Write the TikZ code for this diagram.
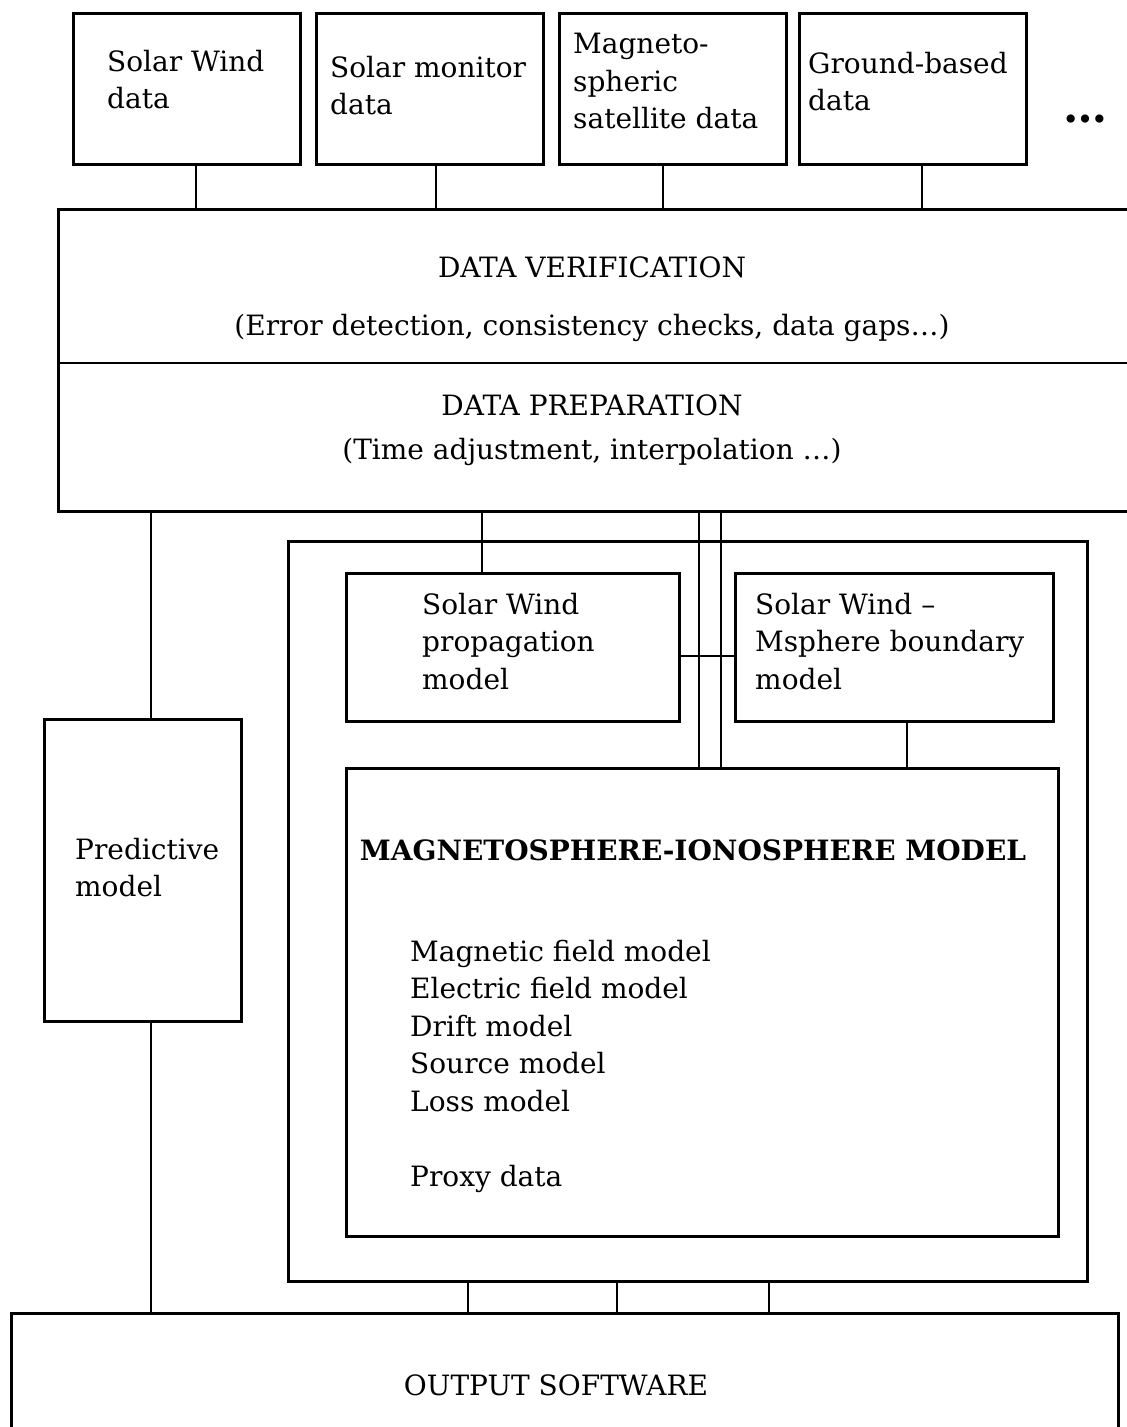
\documentclass[tikz,border=0pt]{standalone}
\usepackage{fontspec}
\setmainfont{DejaVu Serif}
\begin{document}
\begin{tikzpicture}[x=1pt,y=-1pt,
  box/.style={draw,line width=2.5pt,rectangle,inner sep=0pt,anchor=north west},
  conn/.style={line width=1.8pt},
  txt/.style={inner sep=0pt,anchor=north west,align=left,font=\fontsize{28}{37.5}\selectfont},
  ctxt/.style={inner sep=0pt,anchor=center,font=\fontsize{28}{37.5}\selectfont}]
\useasboundingbox[fill=white] (0,0) rectangle (1127,1427);
% top data boxes
\node[box,minimum width=227pt,minimum height=151pt] (b1) at (72,12) {};
\node[box,minimum width=227pt,minimum height=151pt] (b2) at (315,12) {};
\node[box,minimum width=227pt,minimum height=151pt] (b3) at (558,12) {};
\node[box,minimum width=227pt,minimum height=151pt] (b4) at (798,12) {};
\node[txt] (t1) at (107,50) {Solar Wind\\data};
\node[txt] (t2) at (330,56) {Solar monitor\\data};
\node[txt] (t3) at (573,33) {Magneto-\\spheric\\satellite data};
\node[txt] (t4) at (808,52) {Ground-based\\data};
\node[ctxt,font=\fontsize{44}{44}\selectfont\bfseries] (dots) at (1085,119) {…};
% verification / preparation
\node[box,minimum width=1090pt,minimum height=302pt] (vp) at (57,208) {};
\coordinate (divL) at (57,363);
\coordinate (divR) at (1147,363);
\draw[line width=2.5pt] (divL) -- (divR);
\node[ctxt] (dv) at (592,267) {DATA VERIFICATION};
\node[ctxt] (dvs) at (592,328) {(Error detection, consistency checks, data gaps…)};
\node[ctxt] (dp) at (592,405) {DATA PREPARATION};
\node[ctxt] (dps) at (592,452) {(Time adjustment, interpolation …)};
% predictive model
\node[box,minimum width=197pt,minimum height=302pt] (pred) at (43,718) {};
\node[txt] (tp) at (75,838) {Predictive\\model};
% model container
\node[box,minimum width=799pt,minimum height=740pt] (cont) at (287,540) {};
\node[box,minimum width=333pt,minimum height=148pt] (swp) at (345,572) {};
\node[txt] (tswp) at (422,593) {Solar Wind\\propagation\\model};
\node[box,minimum width=318pt,minimum height=148pt] (swm) at (734,572) {};
\node[txt] (tswm) at (755,593) {Solar Wind –\\Msphere boundary\\model};
\node[box,minimum width=712pt,minimum height=468pt] (mi) at (345,767) {};
\node[ctxt,font=\fontsize{28}{37.5}\selectfont\bfseries] (mit) at (693,850) {MAGNETOSPHERE-IONOSPHERE MODEL};
\node[txt] (mil) at (410,940) {Magnetic field model\\Electric field model\\Drift model\\Source model\\Loss model\\[37.5pt]Proxy data};
% output
\node[box,minimum width=1107pt,minimum height=140pt] (out) at (10,1312) {};
\node[ctxt] (tout) at (556,1385) {OUTPUT SOFTWARE};
% connectors
\draw[conn] ([xshift=9.5pt]b1.south) -- ([xshift=9.5pt]b1.south |- vp.north);
\draw[conn] ([xshift=6.5pt]b2.south) -- ([xshift=6.5pt]b2.south |- vp.north);
\draw[conn] ([xshift=-9.5pt]b3.south) -- ([xshift=-9.5pt]b3.south |- vp.north);
\draw[conn] ([xshift=9.5pt]b4.south) -- ([xshift=9.5pt]b4.south |- vp.north);
\draw[conn] ([xshift=8.5pt]pred.north) -- ([xshift=8.5pt]pred.north |- vp.south);
\draw[conn] ([xshift=8.5pt]pred.south) -- ([xshift=8.5pt]pred.south |- out.north);
\draw[conn] ([xshift=-30.5pt]swp.north) -- ([xshift=-30.5pt]swp.north |- vp.south);
\draw[conn] ([xshift=-3pt]mi.north) -- ([xshift=-3pt]mi.north |- vp.south);
\draw[conn] ([xshift=19pt]mi.north) -- ([xshift=19pt]mi.north |- vp.south);
\draw[conn] ([yshift=-9pt]swp.east) -- ([yshift=-9pt]swp.east -| swm.west);
\draw[conn] ([xshift=13pt]swm.south) -- ([xshift=13pt]swm.south |- mi.north);
\draw[conn] ([xshift=-219.5pt]cont.south) -- ([xshift=-219.5pt]cont.south |- out.north);
\draw[conn] ([xshift=-70.5pt]cont.south) -- ([xshift=-70.5pt]cont.south |- out.north);
\draw[conn] ([xshift=81.5pt]cont.south) -- ([xshift=81.5pt]cont.south |- out.north);
\end{tikzpicture}
\end{document}
